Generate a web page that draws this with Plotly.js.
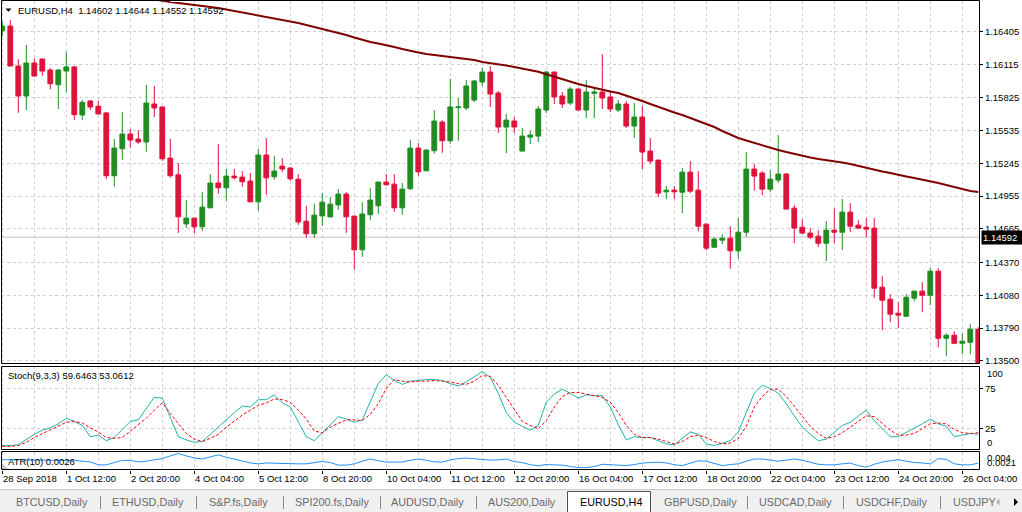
<!DOCTYPE html>
<html><head><meta charset="utf-8">
<script src="https://cdn.plot.ly/plotly-3.0.1.min.js"></script>
<style>html,body{margin:0;padding:0;background:#fff;}#chart{width:1022px;height:512px;}</style>
</head><body><div id="chart"></div>
<script>
// ---------- DATA ----------
const symbolTitle = 'EURUSD,H4';
const headerValues = ['1.14602', '1.14644', '1.14552', '1.14592'];
const bidPrice = 1.14592;

const open = [
1.16414,1.16455,1.16102,1.15838,1.16129,1.16164,1.16067,1.15937,1.16058,1.16094,
1.15670,1.15794,1.15747,1.15688,1.15134,1.15372,1.15502,1.15458,1.15432,1.15767,
1.15741,1.15290,1.15142,1.14709,1.14760,1.14683,1.14851,1.15070,1.15028,1.15131,
1.15122,1.15087,1.14904,1.15317,1.15125,1.15219,1.15202,1.15104,1.14733,1.14622,
1.14780,1.14771,1.14877,1.14972,1.14778,1.14481,1.14790,1.14869,1.15078,1.15060,
1.14851,1.15019,1.15378,1.15178,1.15355,1.15608,1.15443,1.15735,1.15732,1.15802,
1.15961,1.16049,1.15864,1.15564,1.15617,1.15352,1.15475,1.15484,1.15714,1.16049,
1.15838,1.15776,1.15899,1.15714,1.15861,1.15873,1.15829,1.15714,1.15767,1.15573,
1.15652,1.15352,1.15272,1.14992,1.15007,1.14989,1.15166,1.15007,1.14707,1.14504,
1.14566,1.14583,1.14472,1.14636,1.15193,1.15158,1.15016,1.15096,1.15149,1.14848,
1.14680,1.14628,1.14601,1.14539,1.14654,1.14636,1.14813,1.14698,1.14680,1.14672,
1.14151,1.14045,1.13921,1.13895,1.14054,1.14116,1.14080,1.14292,1.13700,1.13727,
1.13656,1.13665,1.13780];
const high = [
1.16491,1.16508,1.16161,1.16288,1.16170,1.16168,1.16085,1.16076,1.16229,1.16102,
1.15802,1.15802,1.15794,1.15696,1.15458,1.15696,1.15546,1.15537,1.15935,1.15926,
1.15745,1.15458,1.15246,1.14919,1.14765,1.14990,1.15149,1.15414,1.15193,1.15193,
1.15175,1.15158,1.15370,1.15467,1.15308,1.15290,1.15210,1.15149,1.14869,1.14887,
1.14981,1.14946,1.15016,1.14990,1.14782,1.14901,1.15025,1.15083,1.15149,1.15149,
1.15070,1.15449,1.15422,1.15365,1.15714,1.15625,1.15988,1.15820,1.15979,1.15979,
1.16085,1.16102,1.15882,1.15679,1.15652,1.15555,1.15528,1.15749,1.16058,1.16053,
1.15873,1.15917,1.15908,1.15979,1.15908,1.16208,1.15890,1.15802,1.15794,1.15776,
1.15749,1.15467,1.15276,1.15043,1.15043,1.15202,1.15264,1.15175,1.14710,1.14592,
1.14619,1.14689,1.14760,1.15343,1.15237,1.15175,1.15184,1.15493,1.15158,1.14875,
1.14751,1.14672,1.14654,1.14734,1.14848,1.14928,1.14893,1.14742,1.14760,1.14760,
1.14248,1.14089,1.14018,1.14089,1.14120,1.14195,1.14319,1.14319,1.13744,1.13762,
1.13744,1.13824,1.13798];
const low = [
1.16367,1.16102,1.15690,1.15714,1.16008,1.16017,1.15899,1.15723,1.15873,1.15625,
1.15625,1.15714,1.15679,1.15107,1.15037,1.15275,1.15381,1.15416,1.15346,1.15652,
1.15266,1.15116,1.14630,1.14674,1.14622,1.14648,1.14848,1.14974,1.14913,1.15099,
1.15037,1.14900,1.14825,1.14966,1.15099,1.15166,1.15090,1.14701,1.14586,1.14586,
1.14692,1.14768,1.14834,1.14630,1.14304,1.14419,1.14745,1.14798,1.15046,1.14816,
1.14790,1.15010,1.15134,1.15172,1.15328,1.15337,1.15416,1.15443,1.15714,1.15785,
1.15926,1.15741,1.15511,1.15334,1.15511,1.15349,1.15414,1.15432,1.15687,1.15767,
1.15732,1.15758,1.15705,1.15643,1.15643,1.15723,1.15696,1.15696,1.15555,1.15467,
1.15193,1.15237,1.14946,1.14928,1.14928,1.14804,1.14981,1.14645,1.14478,1.14495,
1.14530,1.14313,1.14401,1.14595,1.15001,1.14963,1.14989,1.15070,1.14840,1.14539,
1.14619,1.14575,1.14504,1.14380,1.14539,1.14478,1.14636,1.14663,1.14592,1.14054,
1.13771,1.13842,1.13789,1.13890,1.14027,1.13930,1.13992,1.13621,1.13542,1.13647,
1.13559,1.13559,1.13418];
const close = [
1.16455,1.16102,1.15838,1.16129,1.16014,1.16058,1.15946,1.16067,1.16094,1.15673,
1.15782,1.15741,1.15679,1.15134,1.15378,1.15502,1.15449,1.15432,1.15776,1.15732,
1.15284,1.15134,1.14772,1.14760,1.14683,1.14857,1.15070,1.15028,1.15131,1.15116,
1.15081,1.14904,1.15317,1.15116,1.15175,1.15193,1.15107,1.14727,1.14622,1.14786,
1.14901,1.14883,1.14972,1.14772,1.14481,1.14796,1.14919,1.15078,1.15055,1.14851,
1.15016,1.15378,1.15169,1.15361,1.15617,1.15443,1.15741,1.15741,1.15926,1.15970,
1.16049,1.15855,1.15564,1.15625,1.15564,1.15484,1.15493,1.15723,1.16049,1.15829,
1.15767,1.15899,1.15714,1.15873,1.15873,1.15820,1.15723,1.15767,1.15573,1.15652,
1.15343,1.15264,1.14981,1.15007,1.14992,1.15166,1.14998,1.14689,1.14495,1.14575,
1.14583,1.14472,1.14636,1.15193,1.15131,1.15016,1.15104,1.15149,1.14840,1.14672,
1.14628,1.14592,1.14539,1.14654,1.14636,1.14813,1.14689,1.14672,1.14663,1.14142,
1.14036,1.13913,1.13904,1.14062,1.14116,1.14080,1.14292,1.13700,1.13727,1.13656,
1.13674,1.13780,1.13453];

// moving average (dark red line), null where above the visible area
const movingAvg = [
null,null,null,null,null,null,null,null,null,null,
null,null,null,null,null,null,null,null,null,1.16690,
1.16676,1.16667,1.16658,1.16650,1.16641,1.16632,1.16623,1.16614,1.16601,1.16588,
1.16575,1.16566,1.16552,1.16539,1.16526,1.16513,1.16500,1.16482,1.16464,1.16447,
1.16429,1.16411,1.16394,1.16376,1.16354,1.16332,1.16314,1.16301,1.16288,1.16270,
1.16252,1.16235,1.16222,1.16208,1.16199,1.16191,1.16182,1.16173,1.16164,1.16155,
1.16138,1.16129,1.16120,1.16107,1.16094,1.16080,1.16067,1.16052,1.16030,1.16008,
1.15985,1.15961,1.15944,1.15926,1.15908,1.15891,1.15877,1.15864,1.15842,1.15820,
1.15794,1.15767,1.15741,1.15714,1.15692,1.15670,1.15644,1.15617,1.15591,1.15564,
1.15529,1.15498,1.15467,1.15445,1.15423,1.15401,1.15379,1.15361,1.15343,1.15326,
1.15308,1.15295,1.15282,1.15273,1.15264,1.15251,1.15238,1.15220,1.15202,1.15185,
1.15171,1.15158,1.15141,1.15128,1.15114,1.15101,1.15088,1.15070,1.15052,1.15035,
1.15017,1.14999,1.14990];

// Stochastic(9,3,3)
const stochMain = [
4,4,5,12,18,23,26,31,38,34,
29,15,17,10,14,24,34,36,50,64,
63,40,15,11,8,9,18,28,37,45,
53,52,61,61,67,57,52,33,15,10,
20,30,40,37,33,36,58,81,92,85,
80,84,85,86,86,85,81,78,83,90,
96,89,69,45,33,28,23,29,58,68,
74,69,63,67,66,66,52,30,11,15,
14,14,10,6,5,13,21,18,6,4,
7,10,21,45,69,79,75,69,56,41,
27,18,10,12,21,29,33,40,48,35,
25,15,15,20,25,31,37,31,28,15,
17,19,18];
const stochSignal = [
3,3,4,8,14,19,24,28,33,34,
32,26,21,14,13,14,22,29,38,48,
57,44,31,19,12,9,13,18,27,35,
42,48,54,57,62,61,58,48,37,22,
20,27,32,36,36,35,43,56,75,86,
84,83,84,84,85,84,83,81,80,84,
91,90,79,64,49,34,29,25,35,52,
65,70,70,68,66,64,58,45,29,18,
14,14,12,9,6,9,15,17,14,9,
6,7,13,28,52,65,74,74,65,53,
40,28,19,13,15,20,27,34,41,40,
31,23,17,17,19,25,31,32,31,24,
20,19,20];

// ATR(10)
const atr = [
0.00317,0.00315,0.00313,0.00311,0.00310,0.00309,0.00309,0.00309,0.00309,0.00309,
0.00302,0.00292,0.00258,0.00258,0.00285,0.00309,0.00309,0.00292,0.00300,0.00318,
0.00330,0.00360,0.00387,0.00360,0.00337,0.00325,0.00345,0.00372,0.00345,0.00325,
0.00300,0.00280,0.00270,0.00280,0.00277,0.00272,0.00270,0.00270,0.00270,0.00285,
0.00297,0.00285,0.00255,0.00255,0.00270,0.00300,0.00325,0.00305,0.00290,0.00290,
0.00290,0.00310,0.00325,0.00310,0.00292,0.00290,0.00315,0.00330,0.00335,0.00328,
0.00322,0.00312,0.00315,0.00325,0.00295,0.00285,0.00260,0.00248,0.00262,0.00260,
0.00255,0.00240,0.00227,0.00227,0.00240,0.00265,0.00262,0.00255,0.00250,0.00262,
0.00278,0.00285,0.00288,0.00280,0.00260,0.00250,0.00280,0.00305,0.00300,0.00275,
0.00250,0.00262,0.00270,0.00300,0.00325,0.00325,0.00315,0.00300,0.00312,0.00325,
0.00310,0.00285,0.00265,0.00258,0.00258,0.00270,0.00278,0.00250,0.00232,0.00265,
0.00290,0.00305,0.00317,0.00300,0.00285,0.00280,0.00270,0.00330,0.00320,0.00270,
0.00258,0.00258,0.00278];

const priceTicks = [1.16405,1.16115,1.15825,1.15535,1.15245,1.14955,1.14665,1.14370,1.14080,1.13790,1.13500];
const priceTickLabels = ['1.16405','1.16115','1.15825','1.15535','1.15245','1.14955','1.14665','1.14370','1.14080','1.13790','1.13500'];
const stochTicks = [25, 75];
const timeLabelIndex = [0,8,16,24,32,40,48,56,64,72,80,88,96,104,112,120];
const timeLabels = ['28 Sep 2018','1 Oct 12:00','2 Oct 20:00','4 Oct 04:00','5 Oct 12:00','8 Oct 20:00',
  '10 Oct 04:00','11 Oct 12:00','12 Oct 20:00','16 Oct 04:00','17 Oct 12:00','18 Oct 20:00',
  '22 Oct 04:00','23 Oct 12:00','24 Oct 20:00','26 Oct 04:00'];
const stochLabel = 'Stoch(9,3,3) 59.6463 53.0612';
const atrLabel = 'ATR(10) 0.0026';
const atrScaleLabels = ['0.004', '0.0021'];
const tabs = ['BTCUSD,Daily','ETHUSD,Daily','S&P.fs,Daily','SPI200.fs,Daily','AUDUSD,Daily','AUS200,Daily',
  'EURUSD,H4','GBPUSD,Daily','USDCAD,Daily','USDCHF,Daily','USDJPY'];
const activeTab = 'EURUSD,H4';

// ---------- LAYOUT HELPERS ----------
const W = 1022, H = 512;
const px = v => v / W;
const py = v => 1 - v / H;
const idx = open.map((_, i) => i);
const xRange = [-0.1625, 122.09];
const FONT = 'Liberation Sans, Arial, sans-serif';
const gridColor = '#cfcfcf';
const gridDash = '3px,3px';

const traces = [
  {type: 'candlestick', x: idx, open: open, high: high, low: low, close: close,
   xaxis: 'x', yaxis: 'y', whiskerwidth: 0, hoverinfo: 'skip', showlegend: false,
   increasing: {line: {color: '#228B22', width: 1}, fillcolor: '#228B22'},
   decreasing: {line: {color: '#DC143C', width: 1}, fillcolor: '#DC143C'}},
  {type: 'scatter', mode: 'lines', x: idx, y: movingAvg, xaxis: 'x', yaxis: 'y',
   line: {color: '#800000', width: 2}, connectgaps: false, showlegend: false, hoverinfo: 'skip'},
  {type: 'scatter', mode: 'lines', x: idx, y: stochMain, xaxis: 'x2', yaxis: 'y2',
   line: {color: '#20B2AA', width: 1}, showlegend: false, hoverinfo: 'skip'},
  {type: 'scatter', mode: 'lines', x: idx, y: stochSignal, xaxis: 'x2', yaxis: 'y2',
   line: {color: '#FF0000', width: 1, dash: '3px,2px'}, showlegend: false, hoverinfo: 'skip'},
  {type: 'scatter', mode: 'lines', x: idx, y: atr, xaxis: 'x3', yaxis: 'y3',
   line: {color: '#1E90FF', width: 1}, showlegend: false, hoverinfo: 'skip'}
];

const xDomain = [px(1), px(979)];
const baseX = {
  domain: xDomain, range: xRange, showticklabels: false, zeroline: false, showline: false,
  tickmode: 'linear', tick0: 0, dtick: 4, ticks: '', showgrid: true,
  gridcolor: gridColor, griddash: gridDash, gridwidth: 1, fixedrange: true
};

const annotations = [];
const txt = (text, x, y, opts) => Object.assign({
  text: text, x: x, y: y, xref: 'paper', yref: 'paper', xanchor: 'left', yanchor: 'middle',
  showarrow: false, font: {family: FONT, size: 9.5, color: '#000'}
}, opts || {});

annotations.push(txt(symbolTitle + '  ' + headerValues.join(' '), px(16), py(10)));
annotations.push(txt(stochLabel, px(6), py(375.5)));
annotations.push(txt(atrLabel, px(6), py(461)));
annotations.push(txt('100', px(985), py(373.5)));
annotations.push(txt('0', px(985), py(442)));
annotations.push(txt(atrScaleLabels[0], px(985), py(457)));
annotations.push(txt(atrScaleLabels[1], px(985), py(462)));
annotations.push({text: '1.14592', x: px(980.5), y: bidPrice, xref: 'paper', yref: 'y',
  xanchor: 'left', yanchor: 'middle', showarrow: false, bgcolor: '#000', borderpad: 1,
  width: 40, align: 'left', font: {family: FONT, size: 9.5, color: '#fff'}});
timeLabels.forEach((t, i) => {
  annotations.push({text: t, x: timeLabelIndex[i], y: py(478.5), xref: 'x3', yref: 'paper',
    xanchor: 'left', yanchor: 'middle', xshift: -1, showarrow: false,
    font: {family: FONT, size: 9.5, color: '#000'}});
});

// tab bar text
const tabLeft = [14, 110, 207, 293, 389, 486, 578, 662, 757, 854, 951];
tabs.forEach((t, i) => {
  annotations.push(txt(t, px(tabLeft[i]), py(502), {
    font: {family: FONT, size: 10.8, color: t === activeTab ? '#000' : '#6a6a6a'}}));
});

const shapes = [];
// bid line
shapes.push({type: 'line', xref: 'paper', yref: 'y', x0: px(1), x1: px(979), y0: bidPrice, y1: bidPrice,
  line: {color: '#c4c4c4', width: 1}, layer: 'between'});
// panel borders
[[0.5, 363.5], [366.5, 449.5], [451.5, 469.5]].forEach(p => {
  shapes.push({type: 'rect', xref: 'paper', yref: 'paper', x0: px(1.5), x1: px(979.5), y0: py(p[1]), y1: py(p[0]),
    line: {color: '#000', width: 1}, fillcolor: 'rgba(0,0,0,0)'});
});
// header triangle
shapes.push({type: 'path', xref: 'paper', yref: 'paper',
  path: `M ${px(5.5)} ${py(8.5)} L ${px(11.5)} ${py(8.5)} L ${px(8.5)} ${py(11.8)} Z`,
  fillcolor: '#000', line: {width: 0}});
// small handle at bottom-left of ATR panel
shapes.push({type: 'path', xref: 'paper', yref: 'paper',
  path: `M ${px(2)} ${py(463)} L ${px(2)} ${py(469)} L ${px(8)} ${py(469)} Z`,
  fillcolor: '#c8c8c8', line: {width: 0}});
// tab bar background
shapes.push({type: 'rect', xref: 'paper', yref: 'paper', x0: 0, x1: 1, y0: 0, y1: py(489),
  fillcolor: '#f0f0f0', line: {width: 0}});
shapes.push({type: 'line', xref: 'paper', yref: 'paper', x0: 0, x1: 1, y0: py(489.5), y1: py(489.5),
  line: {color: '#c8c8c8', width: 1}});
// active tab
shapes.push({type: 'rect', xref: 'paper', yref: 'paper', x0: px(567.5), x1: px(650.5), y0: py(513), y1: py(491.5),
  fillcolor: '#fff', line: {color: '#505050', width: 1}});
// separators
[100.5, 196.5, 283.5, 380.5, 476.5, 747.5, 843.5, 940.5].forEach(x => {
  shapes.push({type: 'line', xref: 'paper', yref: 'paper', x0: px(x), x1: px(x), y0: py(496), y1: py(509),
    line: {color: '#8a8a8a', width: 1}});
});
// scroll arrows
shapes.push({type: 'path', xref: 'paper', yref: 'paper',
  path: `M ${px(999.5)} ${py(498.5)} L ${px(999.5)} ${py(505.5)} L ${px(996)} ${py(502)} Z`,
  fillcolor: '#b0b0b0', line: {width: 0}});
shapes.push({type: 'path', xref: 'paper', yref: 'paper',
  path: `M ${px(1014)} ${py(498)} L ${px(1014)} ${py(506)} L ${px(1018)} ${py(502)} Z`,
  fillcolor: '#000', line: {width: 0}});

const layout = {
  width: W, height: H, margin: {l: 0, r: 0, t: 0, b: 0},
  paper_bgcolor: '#fff', plot_bgcolor: '#fff', showlegend: false,
  boxgap: 0.4, boxgroupgap: 0,
  font: {family: FONT, size: 9.5, color: '#000'},
  xaxis: Object.assign({}, baseX, {anchor: 'y', rangeslider: {visible: false}}),
  xaxis2: Object.assign({}, baseX, {anchor: 'y2', matches: 'x'}),
  xaxis3: Object.assign({}, baseX, {anchor: 'y3', matches: 'x', dtick: 8, ticks: 'outside',
    ticklen: 3, tickcolor: '#000', tickwidth: 1,
    minor: {tick0: 0, dtick: 4, showgrid: true, gridcolor: gridColor, griddash: gridDash, ticks: ''}}),
  yaxis: {domain: [py(364), py(1)], range: [1.13473, 1.16676], anchor: 'x', side: 'right',
    tickmode: 'array', tickvals: priceTicks, ticktext: priceTickLabels,
    ticks: 'outside', ticklen: 3, tickcolor: '#000', showline: false, zeroline: false,
    showgrid: true, gridcolor: gridColor, griddash: gridDash,
    tickfont: {family: FONT, size: 9.5, color: '#000'}, fixedrange: true},
  yaxis2: {domain: [py(449.5), py(366)], range: [-0.9, 102.9], anchor: 'x2', side: 'right',
    tickmode: 'array', tickvals: stochTicks, ticktext: stochTicks.map(String),
    ticks: 'outside', ticklen: 3, tickcolor: '#000', zeroline: false, showline: false,
    showgrid: true, gridcolor: gridColor, griddash: gridDash,
    tickfont: {family: FONT, size: 9.5, color: '#000'}, fixedrange: true},
  yaxis3: {domain: [py(470), py(451.5)], range: [0.0020, 0.0041], anchor: 'x3', side: 'right',
    showticklabels: false, ticks: '', showgrid: false, zeroline: false, showline: false, fixedrange: true},
  annotations: annotations,
  shapes: shapes
};

Plotly.newPlot('chart', traces, layout, {staticPlot: true, displayModeBar: false});
</script>
</body></html>
